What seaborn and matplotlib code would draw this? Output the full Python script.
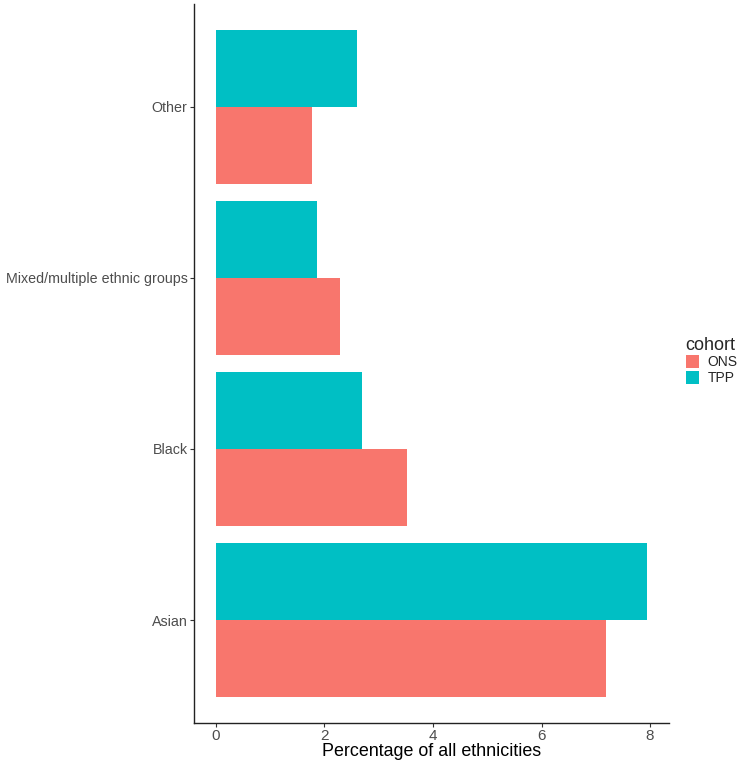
import matplotlib
matplotlib.use("Agg")
import matplotlib.pyplot as plt
import matplotlib.patches as mpatches
import seaborn as sns
import pandas as pd

categories = ["Other", "Mixed/multiple ethnic groups", "Black", "Asian"]
ons_values = [1.77, 2.28, 3.52, 7.18]
tpp_values = [2.60, 1.87, 2.70, 7.95]
cohorts = ["ONS", "TPP"]
colors = {"ONS": "#F8766D", "TPP": "#00BFC4"}
x_ticks = [0, 2, 4, 6, 8]

df = pd.DataFrame({
    "ethnicity": categories * 2,
    "cohort": ["ONS"] * len(categories) + ["TPP"] * len(categories),
    "pct": ons_values + tpp_values,
})

sns.set_style("white")
plt.rcParams["font.family"] = ["Liberation Sans", "DejaVu Sans"]

fig = plt.figure(figsize=(7.5, 7.67), dpi=100)
ax = fig.add_axes([194 / 750, (767 - 722.6) / 767, (669 - 194) / 750, (722.6 - 4.4) / 767])

sns.barplot(data=df, x="pct", y="ethnicity", hue="cohort", order=categories,
            hue_order=["TPP", "ONS"], palette=colors, orient="h",
            width=0.9, gap=0, dodge=True, errorbar=None, saturation=1,
            linewidth=0, ax=ax, legend=False)

ax.set_ylim(3.6, -0.6)
ax.set_xlim(-0.405, 8.35)
ax.set_xticks(x_ticks)
ax.set_xticklabels([str(t) for t in x_ticks], fontsize=11, color="#4D4D4D")
ax.tick_params(axis="y", labelsize=10.3, labelcolor="#4D4D4D")
ax.tick_params(axis="both", length=3, width=0.8, color="#333333", pad=1.5, left=True, bottom=True)
ax.set_ylabel("")
ax.set_xlabel("Percentage of all ethnicities", fontsize=12.9, labelpad=0, color="black")
for s in ["top", "right"]:
    ax.spines[s].set_visible(False)
for s in ["left", "bottom"]:
    ax.spines[s].set_color("#222222")
    ax.spines[s].set_linewidth(1.0)

handles = [mpatches.Patch(facecolor=colors[c], edgecolor="none", label=c) for c in cohorts]
leg = fig.legend(handles=handles, title="cohort", loc="upper left",
                 bbox_to_anchor=(680 / 750, 1 - 331 / 767), frameon=False,
                 fontsize=10, title_fontsize=13, handlelength=1.0, handleheight=1.1,
                 handletextpad=0.6, labelspacing=0.1, borderaxespad=0)
leg._legend_box.align = "left"

fig.savefig("out.png", dpi=100)
